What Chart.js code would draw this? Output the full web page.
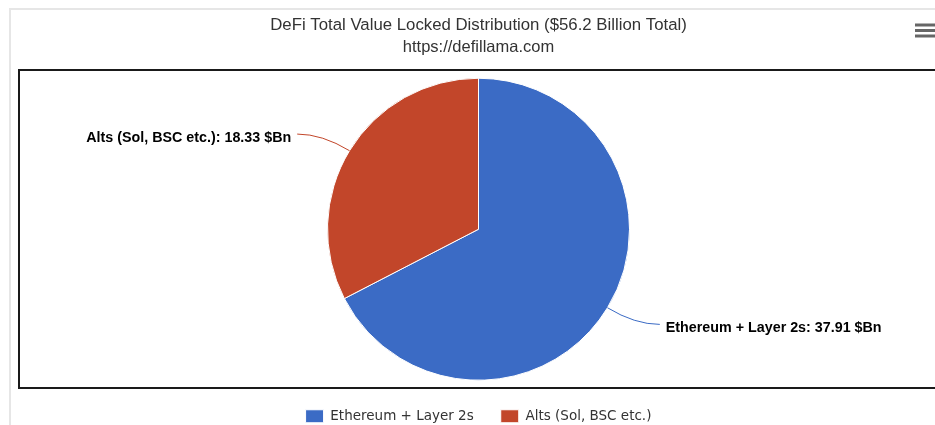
<!DOCTYPE html>
<html>
<head>
<meta charset="utf-8">
<title>DeFi TVL distribution</title>
<script src="https://cdn.jsdelivr.net/npm/chart.js@4"></script>
<style>
  html, body { margin: 0; padding: 0; background: #fff; }
  #wrap { width: 935px; height: 425px; }
</style>
</head>
<body>
<div id="wrap"><canvas id="tvlPie"></canvas></div>
<script>
// values
const categories = ['Ethereum + Layer 2s', 'Alts (Sol, BSC etc.)'];
const tvlValues = [37.91, 18.33];
const sliceColors = ['#3b6bc5', '#c2462a'];
const valueUnit = '$Bn';

// white page, grey frame, black plot border, menu icon
const framePlugin = {
    id: 'frame',
    beforeDraw(chart) {
        const ctx = chart.ctx;
        ctx.save();
        ctx.fillStyle = '#fff';
        ctx.fillRect(0, 0, chart.width, chart.height);
        ctx.strokeStyle = '#e6e6e6';
        ctx.lineWidth = 2;
        ctx.beginPath();
        ctx.moveTo(10, 425);
        ctx.lineTo(10, 9);
        ctx.lineTo(935, 9);
        ctx.stroke();
        ctx.strokeStyle = '#1a1a1a';
        ctx.lineWidth = 2;
        ctx.strokeRect(19, 70, 930, 318);
        ctx.strokeStyle = '#666';
        ctx.lineWidth = 3;
        [25, 30.5, 36].forEach(y => {
            ctx.beginPath();
            ctx.moveTo(915, y);
            ctx.lineTo(935, y);
            ctx.stroke();
        });
        ctx.restore();
    }
};

// outside labels with connectors, placed from the arc elements
const sliceLabels = {
    id: 'sliceLabels',
    afterDatasetsDraw(chart) {
        const ctx = chart.ctx;
        const meta = chart.getDatasetMeta(0);
        ctx.save();
        ctx.font = 'bold 14.3px "Liberation Sans", Arial, sans-serif';
        ctx.textBaseline = 'middle';
        meta.data.forEach((arc, i) => {
            const p = arc.getProps(['x', 'y', 'startAngle', 'endAngle', 'outerRadius'], true);
            const mid = (p.startAngle + p.endAngle) / 2;
            const side = Math.cos(mid) >= 0 ? 1 : -1;
            const ex = p.x + Math.cos(mid) * p.outerRadius;
            const ey = p.y + Math.sin(mid) * p.outerRadius;
            const bx = p.x + Math.cos(mid) * (p.outerRadius + 32);
            const by = p.y + Math.sin(mid) * (p.outerRadius + 32);
            const lx = bx + side * 25;
            ctx.strokeStyle = sliceColors[i];
            ctx.lineWidth = 1;
            ctx.beginPath();
            ctx.moveTo(ex, ey);
            ctx.quadraticCurveTo(bx, by, lx, by);
            ctx.stroke();
            ctx.fillStyle = '#000';
            ctx.textAlign = side > 0 ? 'left' : 'right';
            ctx.fillText(categories[i] + ': ' + tvlValues[i].toFixed(2) + ' ' + valueUnit, lx + side * 6, by + 4);
        });
        ctx.restore();
    }
};

new Chart(document.getElementById('tvlPie').getContext('2d'), {
    type: 'pie',
    data: {
        labels: categories,
        datasets: [{
            data: tvlValues,
            backgroundColor: sliceColors,
            borderColor: '#fff',
            borderWidth: 1,
            radius: 151
        }]
    },
    options: {
        responsive: true,
        maintainAspectRatio: false,
        animation: false,
        layout: {
            padding: { left: 22, right: 0, top: 0, bottom: -8 }
        },
        plugins: {
            title: {
                display: true,
                text: 'DeFi Total Value Locked Distribution ($56.2 Billion Total)',
                color: '#333',
                font: { family: '"Liberation Sans", Arial, sans-serif', size: 16.8, weight: 'normal' },
                padding: { top: 15, bottom: 2 }
            },
            subtitle: {
                display: true,
                text: 'https://defillama.com',
                color: '#333',
                font: { family: '"Liberation Sans", Arial, sans-serif', size: 16.5, weight: 'normal' },
                padding: { top: 0, bottom: 19 }
            },
            legend: {
                position: 'bottom',
                labels: {
                    boxWidth: 18,
                    boxHeight: 13,
                    padding: 27,
                    color: '#333',
                    font: { family: '"DejaVu Sans", Verdana, sans-serif', size: 13.5 }
                }
            },
            tooltip: { enabled: false }
        }
    },
    plugins: [framePlugin, sliceLabels]
});
</script>
</body>
</html>
